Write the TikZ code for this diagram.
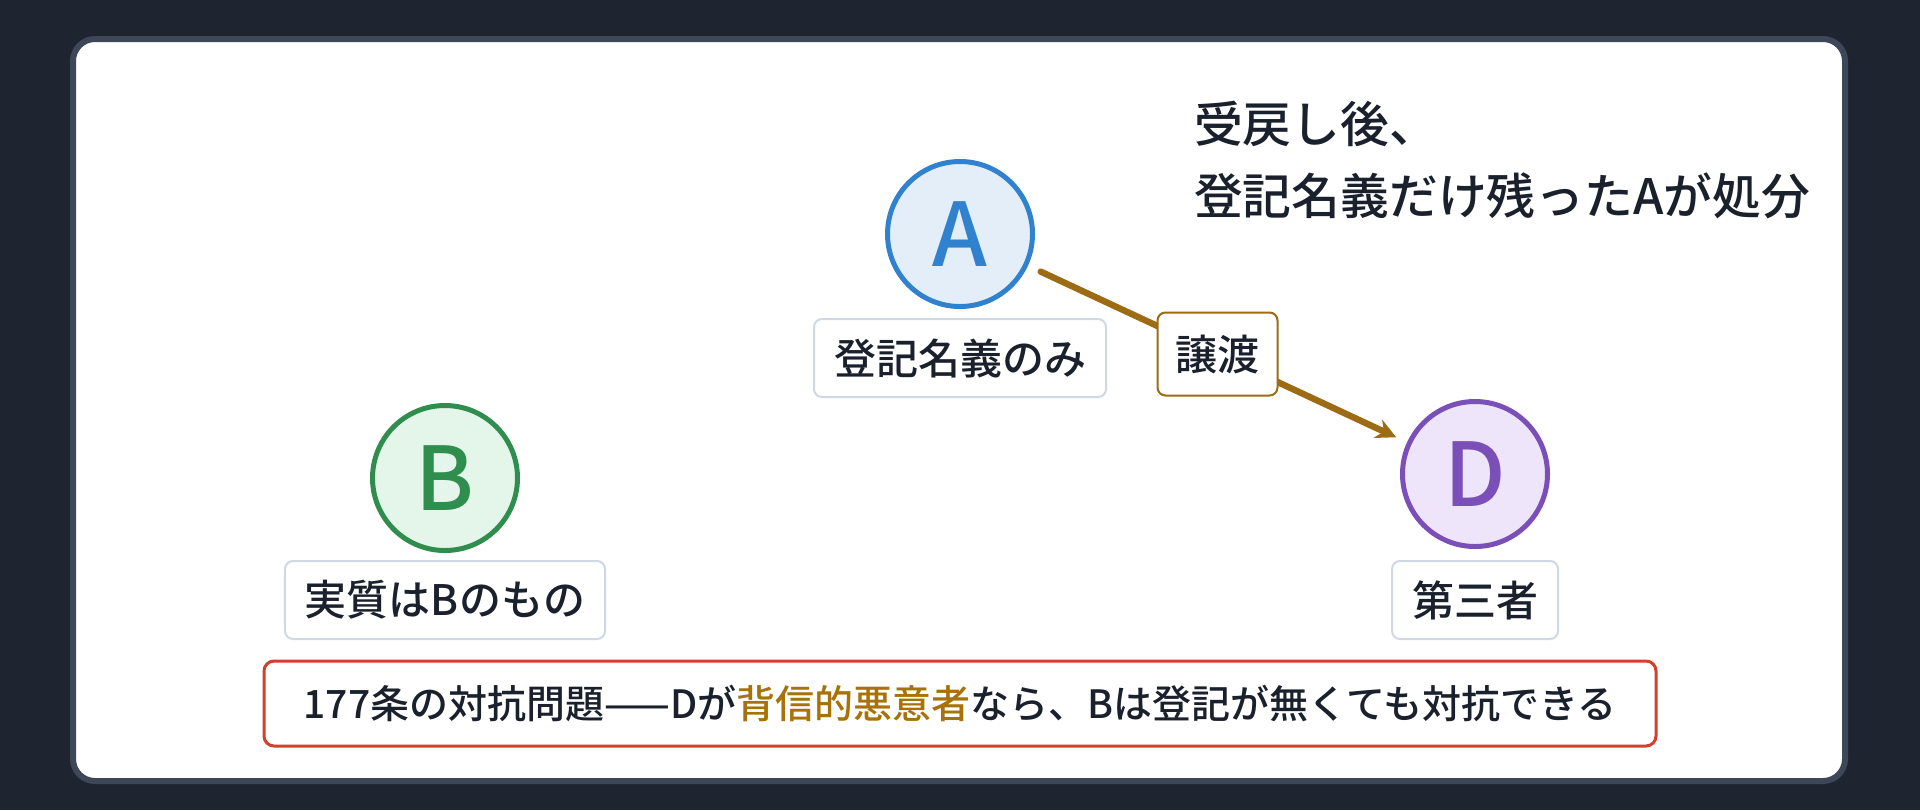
\documentclass[tikz,border=0pt]{standalone}
\usepackage{fontspec}
\setmainfont{Noto Sans CJK JP}[UprightFont=* Medium, BoldFont=* Bold]
\usetikzlibrary{positioning,arrows.meta}
\definecolor{bgdark}{HTML}{1E2530}
\definecolor{cardline}{HTML}{3D4757}
\definecolor{ink}{HTML}{1A202C}
\definecolor{tagline}{HTML}{CFD8E3}
\definecolor{lineA}{HTML}{3182CE}
\definecolor{fillA}{HTML}{E4EEF9}
\definecolor{lineB}{HTML}{2F8E4E}
\definecolor{fillB}{HTML}{E4F5E9}
\definecolor{lineD}{HTML}{7B4FB8}
\definecolor{fillD}{HTML}{EEE5FA}
\definecolor{transfer}{HTML}{9C6B14}
\definecolor{warnline}{HTML}{D0412E}
\definecolor{accent}{HTML}{A77209}
\begin{document}
\begin{tikzpicture}[x=0.5pt,y=-0.5pt,
  person/.style={circle, line width=2.5pt, minimum size=72.5pt, inner sep=0pt,
    font=\fontsize{44}{44}\selectfont},
  tag/.style={draw=tagline, line width=1pt, fill=white, rounded corners=4pt, text=ink,
    font=\fontsize{21}{24}\selectfont, inner xsep=10pt, inner ysep=0pt, minimum height=39pt}]
  \useasboundingbox (0,0) rectangle (1920,810);
  \fill[bgdark] (0,0) rectangle (1920,810);
  \draw[cardline, line width=3pt, fill=white, rounded corners=11pt] (73,39) rectangle (1845,781);

  % Personen mit Beschriftung
  \foreach \n/\x/\y/\t/\g in {A/960/234/登記名義のみ/4.5pt, B/445/478/実質はBのもの/3.5pt, D/1475/474/第三者/5.5pt} {
    \node[person, draw=line\n, fill=fill\n, text=line\n] (\n) at (\x,\y) {\n};
    \node[tag, below=\g of \n] (\n-tag) {\t};
  }

  % Uebertragung A -> D
  \draw[transfer, line width=3.2pt, line cap=round, -{Stealth[length=10pt,width=10pt]},
    shorten <=7pt, shorten >=6pt]
    (A) -- node[tag, draw=transfer, inner xsep=9pt, minimum height=41.5pt] (deal) {譲渡} (D);

  % Titel
  \node[anchor=west, align=left, text=ink, font=\fontsize{24.4}{36}\selectfont] (title) at (1187,160)
    {受戻し後、\\登記名義だけ残ったAが処分};

  % Hinweis
  \node[draw=warnline, line width=1.5pt, fill=white, rounded corners=5pt, minimum width=696pt,
    minimum height=42.5pt, text=ink, font=\fontsize{19.5}{24}\selectfont] (note) at (960,703.5)
    {177条の対抗問題——Dが\textcolor{accent}{背信的悪意者}なら、Bは登記が無くても対抗できる};
\end{tikzpicture}
\end{document}
